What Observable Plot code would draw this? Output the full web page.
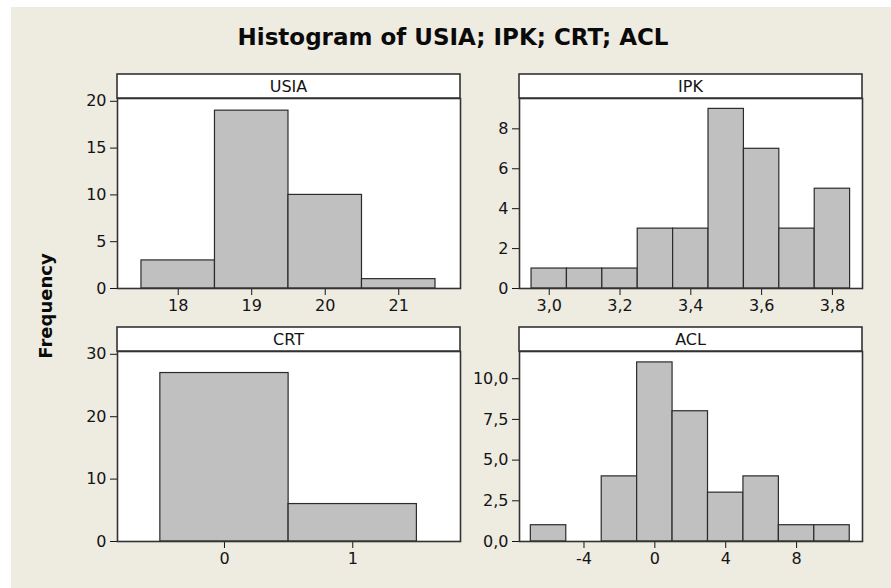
<!DOCTYPE html>
<html>
<head>
<meta charset="utf-8">
<script src="https://cdn.jsdelivr.net/npm/d3@7"></script>
<script src="https://cdn.jsdelivr.net/npm/@observablehq/plot@0.6"></script>
<style>
  html, body { margin: 0; padding: 0; background: #ffffff; }
  #page { position: relative; width: 891px; height: 588px; background: #ffffff; overflow: hidden; }
  #bg { position: absolute; left: 11px; top: 7px; right: 0; bottom: 0; background: #EEEBE1; }
  .panel { position: absolute; }
  #overlay { position: absolute; left: 0; top: 0; pointer-events: none; }
</style>
</head>
<body>
<div id="page">
  <div id="bg"></div>
</div>
<script>
// ---- Data ----
const titleText = "Histogram of USIA; IPK; CRT; ACL";
const yLabel = "Frequency";

const usiaEdges = [17.5, 18.5, 19.5, 20.5, 21.5];
const usiaCounts = [3, 19, 10, 1];
const usiaXTicks = [18, 19, 20, 21];
const usiaYTicks = [0, 5, 10, 15, 20];

const ipkEdges = [2.95, 3.05, 3.15, 3.25, 3.35, 3.45, 3.55, 3.65, 3.75, 3.85];
const ipkCounts = [1, 1, 1, 3, 3, 9, 7, 3, 5];
const ipkXTicks = [3.0, 3.2, 3.4, 3.6, 3.8];
const ipkYTicks = [0, 2, 4, 6, 8];

const crtEdges = [-0.5, 0.5, 1.5];
const crtCounts = [27, 6];
const crtXTicks = [0, 1];
const crtYTicks = [0, 10, 20, 30];

const aclEdges = [-7, -5, -3, -1, 1, 3, 5, 7, 9, 11];
const aclCounts = [1, 0, 4, 11, 8, 3, 4, 1, 1];
const aclXTicks = [-4, 0, 4, 8];
const aclYTicks = [0, 2.5, 5, 7.5, 10];

// ---- helpers ----
const toBins = (edges, counts) => counts.map((c, i) => ({x1: edges[i], x2: edges[i + 1], count: c}));
const comma1 = d => d.toFixed(1).replace(".", ",");
const plain = d => String(d);

const FONT = "DejaVu Sans, Verdana, sans-serif";
const INK = "#141414";
const FRAME = "#333333";

const mL = 60, mR = 10, mT = 25, mB = 40, pw = 343, ph = 190;

function panel({name, edges, counts, xDomain, yMax, xTicks, yTicks, xFmt, yFmt, left, top}) {
  const bins = toBins(edges, counts).filter(d => d.count > 0);
  const chart = Plot.plot({
    width: mL + pw + mR,
    height: mT + ph + mB,
    marginLeft: mL, marginRight: mR, marginTop: mT, marginBottom: mB,
    style: {background: "transparent", fontFamily: FONT, fontSize: "16px", color: INK, overflow: "visible"},
    x: {domain: xDomain, ticks: xTicks, tickFormat: xFmt, tickSize: 7, tickPadding: 4, label: null},
    y: {domain: [0, yMax], ticks: yTicks, tickFormat: yFmt, tickSize: 7, tickPadding: 4, label: null},
    marks: [
      Plot.frame({fill: "white", stroke: null}),
      Plot.rectY(bins, {x1: "x1", x2: "x2", y: "count", fill: "#C0C0C0", stroke: "#2b2b2b", strokeWidth: 1.2, inset: 0}),
      Plot.frame({stroke: FRAME, strokeWidth: 1.6})
    ]
  });
  const svg = d3.select(chart);
  // strip header
  svg.append("rect")
    .attr("x", mL).attr("y", 1).attr("width", pw).attr("height", mT - 1)
    .attr("fill", "white").attr("stroke", FRAME).attr("stroke-width", 1.6);
  svg.append("text")
    .attr("x", mL + pw / 2).attr("y", 1 + (mT - 1) / 2)
    .attr("text-anchor", "middle").attr("dominant-baseline", "central")
    .attr("font-family", FONT).attr("font-size", 16).attr("fill", INK)
    .text(name);
  chart.classList.add("panel");
  chart.style.left = left + "px";
  chart.style.top = top + "px";
  document.getElementById("page").appendChild(chart);
}

panel({name: "USIA", edges: usiaEdges, counts: usiaCounts, xDomain: [17.174, 21.84], yMax: 20.3,
       xTicks: usiaXTicks, yTicks: usiaYTicks, xFmt: plain, yFmt: plain, left: 117 - mL, top: 73});
panel({name: "IPK", edges: ipkEdges, counts: ipkCounts, xDomain: [2.916, 3.885], yMax: 9.52,
       xTicks: ipkXTicks, yTicks: ipkYTicks, xFmt: comma1, yFmt: plain, left: 519 - mL, top: 73});
panel({name: "CRT", edges: crtEdges, counts: crtCounts, xDomain: [-0.834, 1.84], yMax: 30.45,
       xTicks: crtXTicks, yTicks: crtYTicks, xFmt: plain, yFmt: plain, left: 117 - mL, top: 326});
panel({name: "ACL", edges: aclEdges, counts: aclCounts, xDomain: [-7.64, 11.72], yMax: 11.67,
       xTicks: aclXTicks, yTicks: aclYTicks, xFmt: plain, yFmt: comma1, left: 519 - mL, top: 326});

// ---- title and shared y label ----
const ov = d3.select("#page").append("svg")
  .attr("id", "overlay").attr("width", 891).attr("height", 588);
ov.append("text")
  .attr("x", 453).attr("y", 45).attr("text-anchor", "middle")
  .attr("font-family", FONT).attr("font-weight", "bold").attr("font-size", 23).attr("fill", "#0a0a0a")
  .text(titleText);
ov.append("text")
  .attr("transform", "translate(52,306) rotate(-90)").attr("text-anchor", "middle")
  .attr("font-family", FONT).attr("font-weight", "bold").attr("font-size", 18).attr("fill", "#0a0a0a")
  .text(yLabel);
</script>
</body>
</html>
